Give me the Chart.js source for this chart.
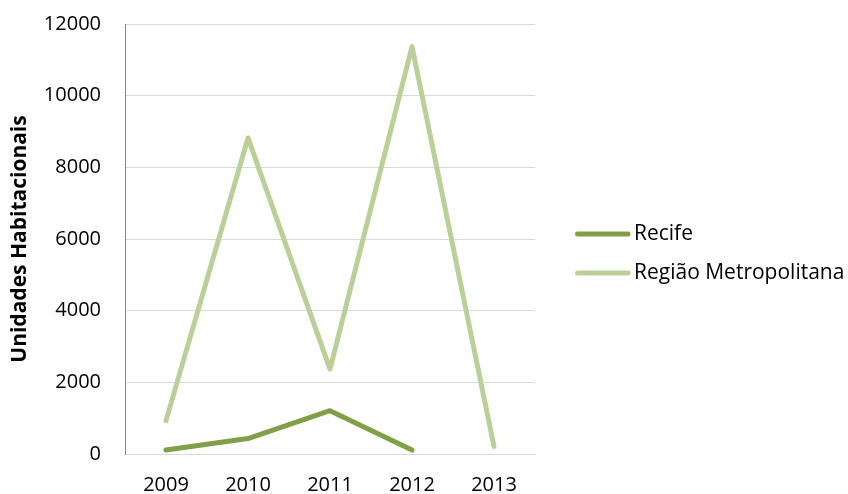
<!DOCTYPE html>
<html lang="pt">
<head>
    <meta charset="UTF-8">
    <title>Unidades Habitacionais</title>
    <script src="https://cdn.jsdelivr.net/npm/chart.js"></script>
    <style>
        body {
            margin: 0;
            background-color: #ffffff;
        }
        #wrap {
            position: relative;
            width: 848px;
            height: 494px;
        }
    </style>
</head>
<body>
    <div id="wrap">
        <canvas id="grafico"></canvas>
    </div>

    <script>
        // Dados
        const anos = ['2009', '2010', '2011', '2012', '2013'];
        const recife = [110, 430, 1210, 110, null];
        const regiaoMetropolitana = [930, 8820, 2370, 11370, 210];
        const ticksY = [0, 2000, 4000, 6000, 8000, 10000, 12000];

        const fonte = "'Open Sans', Lato, sans-serif";

        Chart.defaults.font.family = fonte;
        Chart.defaults.font.size = 20;
        Chart.defaults.color = '#000000';

        // Legenda desenhada à direita (a legenda nativa fica estreita demais)
        const legendaDireita = {
            id: 'legendaDireita',
            afterDraw(chart) {
                const c = chart.ctx;
                const area = chart.chartArea;
                const x0 = area.right + 40;
                let y = chart.height / 2 - 13;
                c.save();
                c.font = '21px ' + fonte;
                c.textBaseline = 'middle';
                c.fillStyle = '#000000';
                chart.data.datasets.forEach(ds => {
                    c.beginPath();
                    c.strokeStyle = ds.borderColor;
                    c.lineWidth = 5;
                    c.lineCap = 'round';
                    c.moveTo(x0 + 2.5, y);
                    c.lineTo(x0 + 53, y);
                    c.stroke();
                    c.fillText(ds.label, x0 + 59, y);
                    y += 39;
                });
                c.restore();
            }
        };

        const ctx = document.getElementById('grafico').getContext('2d');
        const grafico = new Chart(ctx, {
            type: 'line',
            data: {
                labels: anos,
                datasets: [{
                    label: 'Recife',
                    data: recife,
                    borderColor: 'rgb(128, 160, 72)',
                    backgroundColor: 'rgb(128, 160, 72)',
                    borderWidth: 5,
                    borderCapStyle: 'round',
                    borderJoinStyle: 'round',
                    pointRadius: 0,
                    tension: 0
                }, {
                    label: 'Região Metropolitana',
                    data: regiaoMetropolitana,
                    borderColor: 'rgb(186, 208, 152)',
                    backgroundColor: 'rgb(186, 208, 152)',
                    borderWidth: 5,
                    borderCapStyle: 'round',
                    borderJoinStyle: 'round',
                    pointRadius: 0,
                    tension: 0
                }]
            },
            options: {
                responsive: true,
                maintainAspectRatio: false,
                animation: false,
                layout: {
                    padding: { top: 24, right: 313, bottom: 0, left: 0 }
                },
                scales: {
                    x: {
                        offset: true,
                        grid: { display: false },
                        border: { color: '#d9d9d9' },
                        ticks: { padding: 11 },
                        afterFit: function(scale) { scale.height = 40; }
                    },
                    y: {
                        min: 0,
                        max: 12000,
                        afterBuildTicks: function(scale) {
                            scale.ticks = ticksY.map(v => ({ value: v }));
                        },
                        grid: {
                            color: '#d9d9d9',
                            drawTicks: true,
                            tickLength: 16,
                            tickColor: 'rgba(0,0,0,0)'
                        },
                        border: { color: '#868686' },
                        ticks: {
                            padding: 8,
                            callback: function(v) { return String(v); }
                        },
                        title: {
                            display: true,
                            text: 'Unidades Habitacionais',
                            font: { weight: 'bold', size: 21 },
                            padding: { top: 7, bottom: 0 }
                        },
                        afterFit: function(scale) { scale.width = 125; }
                    }
                },
                plugins: {
                    legend: { display: false },
                    tooltip: { enabled: false }
                }
            },
            plugins: [legendaDireita]
        });
    </script>
</body>
</html>
